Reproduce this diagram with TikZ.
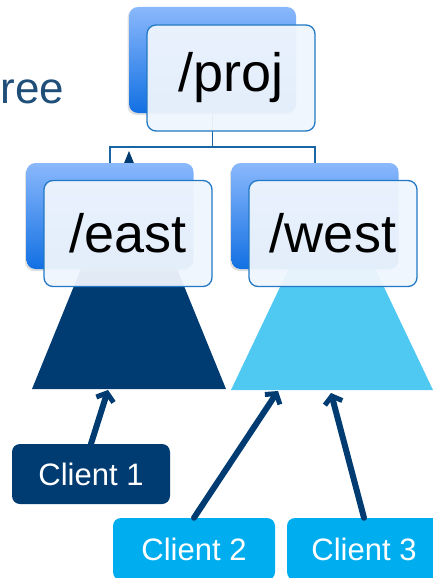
\documentclass[tikz,border=0pt]{standalone}
\usepackage{fontspec}
\setmainfont{Liberation Sans}
\usetikzlibrary{arrows.meta,shadows}
\definecolor{navy}{HTML}{003B72}
\definecolor{cyanc}{HTML}{00AEEF}
\definecolor{lightcy}{HTML}{4FC8F2}
\definecolor{boxline}{HTML}{2178C4}
\definecolor{conn}{HTML}{1A65A6}
\definecolor{backtop}{HTML}{8AB8FC}
\definecolor{backbot}{HTML}{1270E3}
\definecolor{frontfill}{HTML}{EFF5FD}
\definecolor{titlec}{HTML}{1F4E79}
\begin{document}
\begin{tikzpicture}[x=1pt,y=-1pt,
  backbox/.style={rounded corners=9pt, top color=backtop, bottom color=backbot,
    draw=none, minimum width=167pt, minimum height=106pt, inner sep=0pt,
    drop shadow={shadow xshift=-1.5pt, shadow yshift=-2pt, opacity=0.25}},
  frontbox/.style={rounded corners=9pt, draw=boxline, line width=1.3pt,
    fill=frontfill, fill opacity=0.95, text opacity=1,
    minimum width=168pt, minimum height=106pt, inner sep=0pt,
    font=\fontsize{54}{60}\selectfont},
  conline/.style={draw=conn, line width=1.4pt},
  client/.style={rounded corners=8pt, text=white, inner sep=0pt,
    minimum height=60pt, font=\fontsize{31}{36}\selectfont},
  arr/.style={draw=navy, line width=6pt, line cap=round,
    -{Straight Barb[length=7pt,width=18pt,line width=5pt]}}
]
\useasboundingbox (0,0) rectangle (433,578);

% title fragment
\node[anchor=base west, text=titlec, inner sep=0pt,
  font=\fontsize{44}{52}\selectfont] (title) at (0.5,103) {ree};

% centres of back boxes
\path (212.5,60) coordinate (projc) (110,216) coordinate (eastc) (315,216) coordinate (westc);

% connectors
\draw[conline] (212.5,113) coordinate (pb) -- (212.5,147) coordinate (pm);
\draw[conline] (110,163) coordinate (el) |- (pm) -| (315,163) coordinate (wl);

% triangles (trees)
\fill[navy] (129,151) coordinate (eapex) -- (226,389) -- (32,389) -- cycle;
\fill[lightcy] (332,178) coordinate (wapex) -- (433,390) -- (231,390) -- cycle;

% back boxes
\node[backbox] (projback) at (projc) {};
\node[backbox] (eastback) at (eastc) {};
\node[backbox] (westback) at (westc) {};

% front boxes
\node[frontbox] (proj) at (231,78) {/proj};
\node[frontbox] (east) at (128,233.5) {/east};
\node[frontbox] (west) at (333,233.5) {/west};

% clients
\node[client, fill=navy, minimum width=158pt] (c1) at (91,474) {Client 1};
\node[client, fill=cyanc, minimum width=162pt, minimum height=62pt] (c2) at (194,549) {Client 2};
\node[client, fill=cyanc, minimum width=154pt, minimum height=62pt] (c3) at (364,549) {Client 3};

% arrows
\coordinate (t1) at (108,390);
\coordinate (t2) at (278,391);
\coordinate (t3) at (331,393);
\draw[arr] (c1.north) -- (t1);
\draw[arr] (c2.north) -- (t2);
\draw[arr] (c3.north) -- (t3);
\end{tikzpicture}
\end{document}
